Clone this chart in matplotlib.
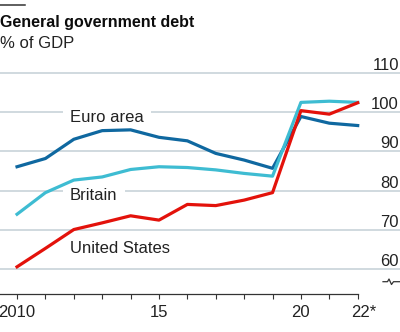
import matplotlib
matplotlib.use("Agg")
import matplotlib.pyplot as plt
from matplotlib.lines import Line2D
from matplotlib.transforms import ScaledTranslation

# data (% of GDP)
years = list(range(2010, 2023))
euro_area = [86.1, 88.2, 93.1, 95.3, 95.5, 93.6, 92.7, 89.5, 87.8, 85.7, 98.9, 97.2, 96.6]
britain = [74.0, 79.5, 82.7, 83.5, 85.4, 86.1, 85.9, 85.3, 84.4, 83.7, 102.5, 102.8, 102.5]
united_states = [60.6, 65.3, 70.1, 71.8, 73.6, 72.5, 76.5, 76.2, 77.6, 79.5, 100.4, 99.5, 102.4]

y_ticks = [60, 70, 80, 90, 100, 110]
x_labels = ["2010", "", "", "", "", "15", "", "", "", "", "20", "", "22*"]

blue = "#0F68A0"
cyan = "#3EBCD2"
red = "#E3120B"
grid_col = "#C4CFD6"
text_col = "#222222"
narrow = ["Liberation Sans Narrow", "Liberation Sans", "DejaVu Sans"]

plt.rcParams["font.family"] = narrow

W, H = 400, 332
fig = plt.figure(figsize=(W / 100, H / 100), dpi=100)
ax = fig.add_axes([0, (H - 293.5) / H, 1, (293.5 - 60) / H])

ax.set_xlim(2009.4, 2023.49)
ax.set_ylim(53.8, 113.3)

# gridlines + right side labels sitting on top of them
ax.set_yticks(y_ticks)
ax.yaxis.tick_right()
ax.yaxis.grid(True, color=grid_col, lw=1.1)
ax.set_axisbelow(True)
ax.tick_params(axis="y", length=0, pad=-0.8, labelsize=12, labelcolor=text_col)
for lab in ax.get_yticklabels():
    lab.set_horizontalalignment("right")
    lab.set_verticalalignment("bottom")

for s in ["left", "right", "top"]:
    ax.spines[s].set_visible(False)
ax.spines["bottom"].set_bounds(2009.4, 2022)
ax.spines["bottom"].set_color("#333333")
ax.spines["bottom"].set_linewidth(0.9)

ax.set_xticks(years)
ax.set_xticklabels(x_labels)
ax.tick_params(axis="x", length=3.6, width=0.8, color="#333333", pad=5,
               labelsize=12, labelcolor=text_col)
last = ax.get_xticklabels()[-1]
last.set_transform(last.get_transform() + ScaledTranslation(0.06, 0, fig.dpi_scale_trans))

ax.plot(years, euro_area, color=blue, lw=2.3, zorder=2)
ax.plot(years, britain, color=cyan, lw=2.3, zorder=2.1)
ax.plot(years, united_states, color=red, lw=2.3, zorder=2.2)

box = dict(facecolor="white", edgecolor="none", pad=5)
ax.text(2011.87, 97.6, "Euro area", fontsize=12, color=text_col, va="baseline", bbox=box, zorder=1.5)
ax.text(2011.87, 77.6, "Britain", fontsize=12, color=text_col, va="baseline", bbox=box, zorder=1.5)
ax.text(2011.87, 64.2, "United States", fontsize=12, color=text_col, va="baseline", zorder=1.5)

# title block
fig.text(0.0, 1 - 27 / H, "General government debt", fontsize=11.5, weight="bold",
         family=["Liberation Sans", "DejaVu Sans"], color="#0C0C0C", va="baseline")
fig.text(0.0, 1 - 48 / H, "% of GDP", fontsize=12, color=text_col, va="baseline")
fig.add_artist(Line2D([0, 25 / W], [1 - 5 / H, 1 - 5 / H], color="#333333", lw=1.1))

# axis break mark next to the 60 line
bx = [383, 387.5, 389, 391.5, 393.5, 400]
by = [281.7, 281.7, 279, 284.5, 281.7, 281.7]
fig.add_artist(Line2D([v / W for v in bx], [1 - v / H for v in by], color="#333333", lw=0.9))

fig.savefig("out.png", dpi=100)
